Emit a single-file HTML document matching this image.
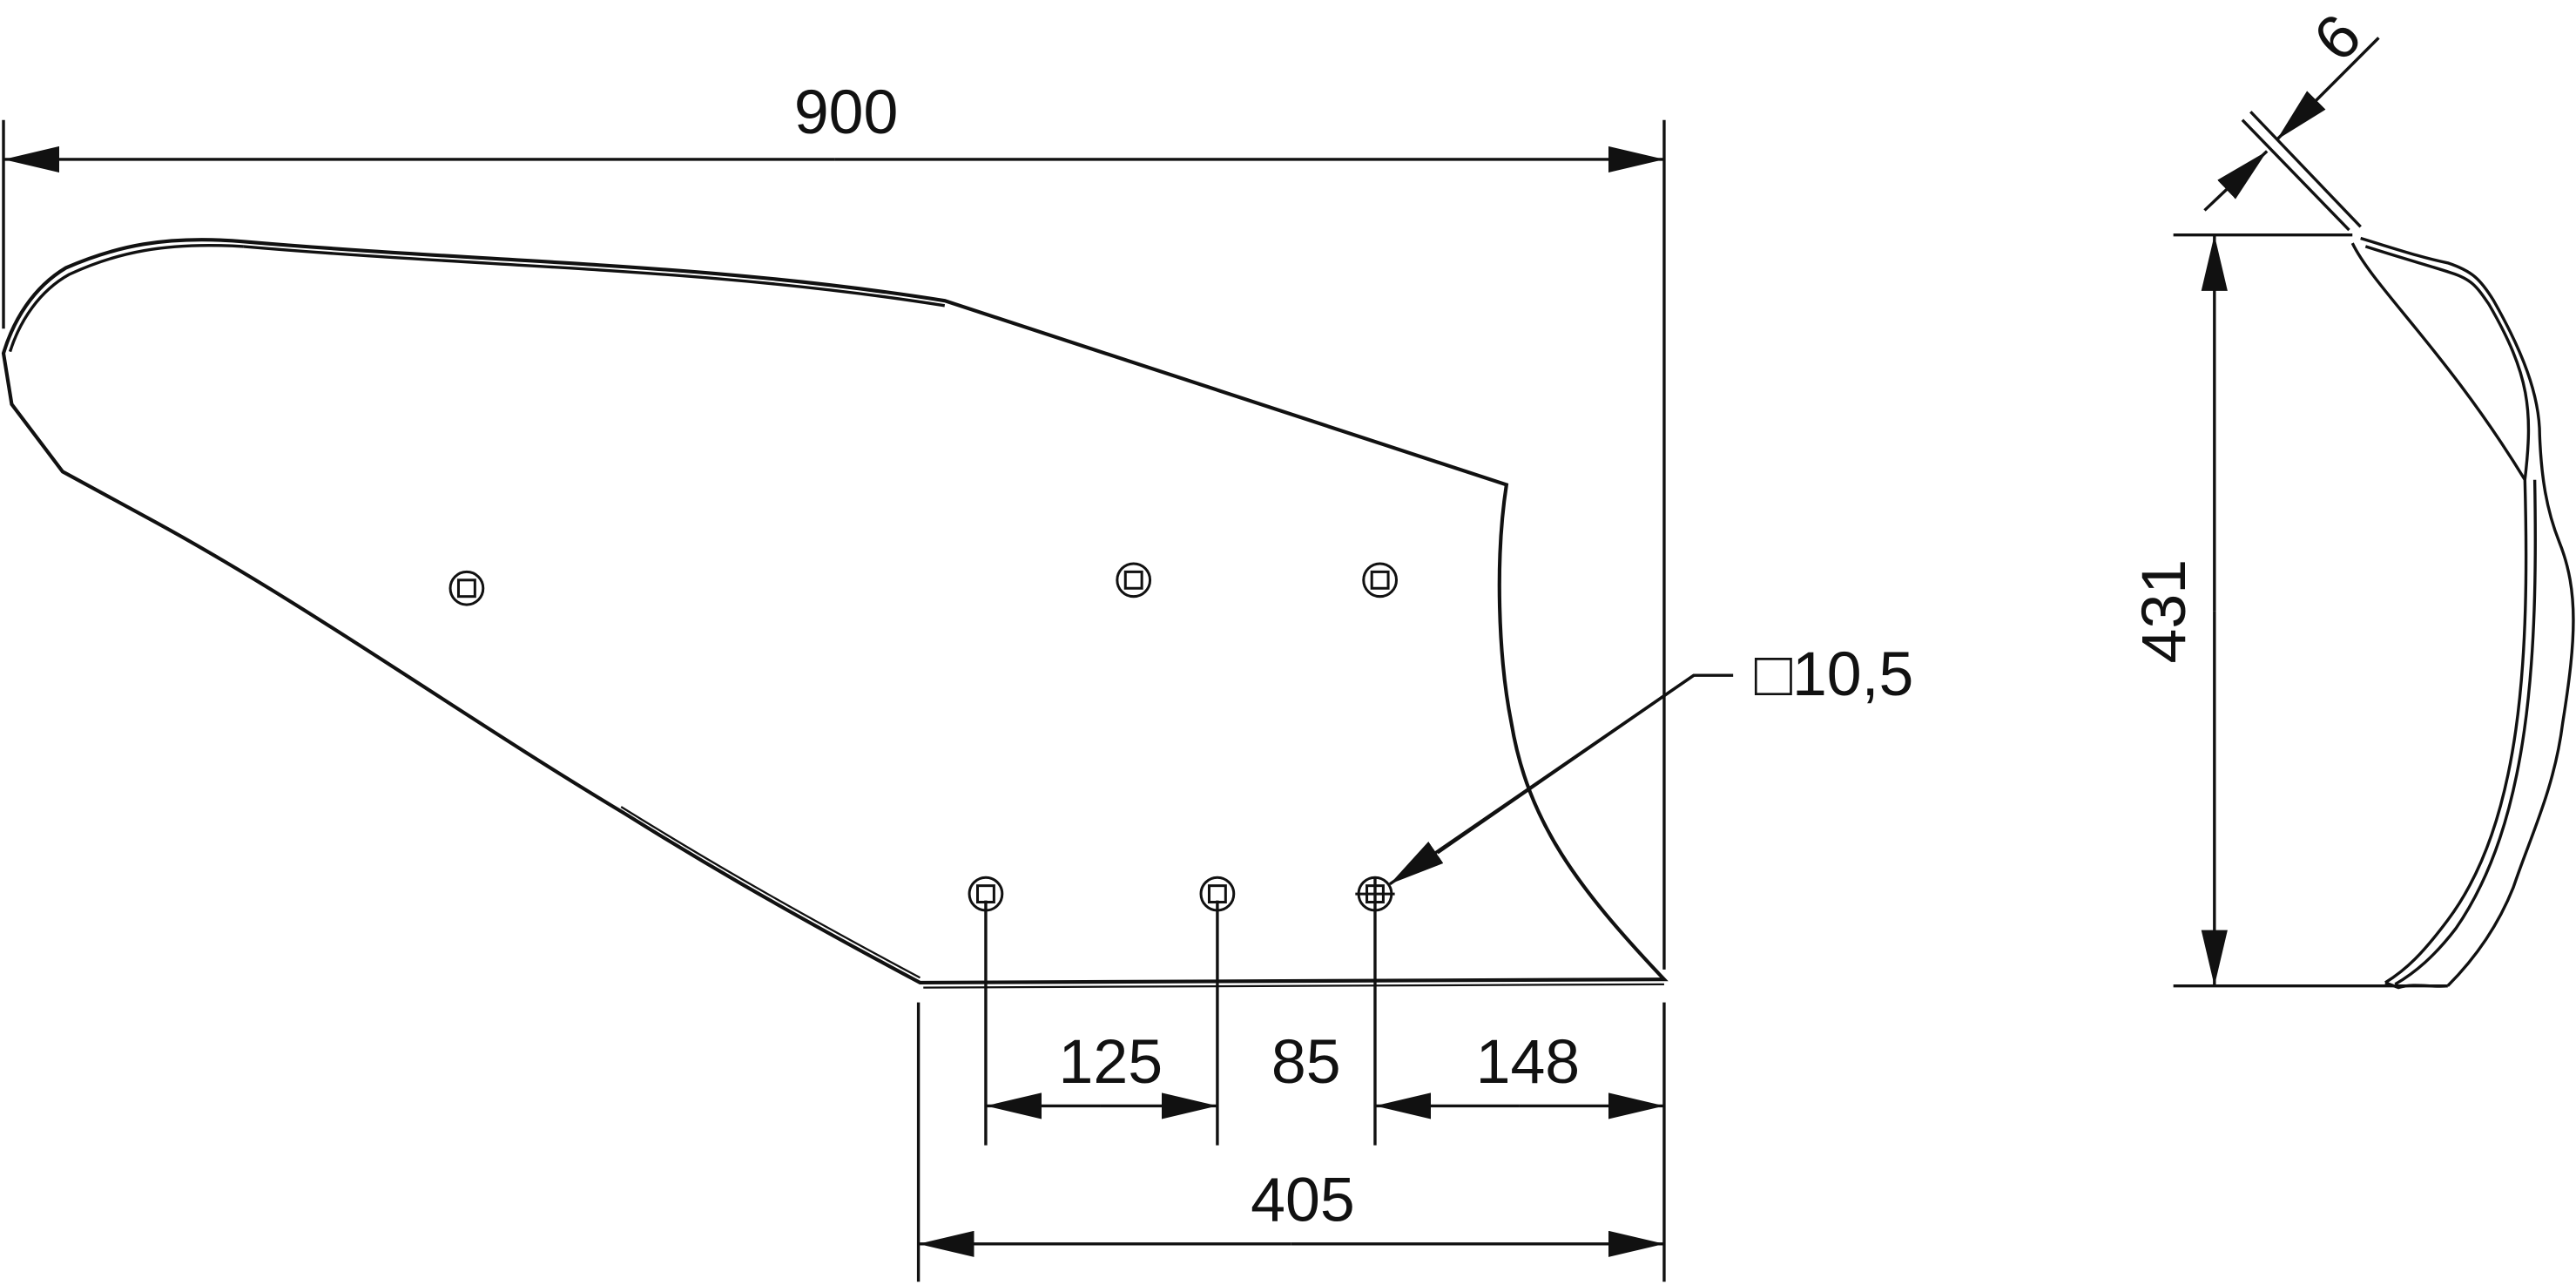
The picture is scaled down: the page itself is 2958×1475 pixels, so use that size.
<!DOCTYPE html>
<html><head><meta charset="utf-8"><style>
html,body{margin:0;padding:0;background:#fff;}
svg{display:block;}
text{font-family:"Liberation Sans",sans-serif;fill:#111;}
</style></head><body>
<svg width="2958" height="1475" viewBox="0 0 1568 782" xmlns="http://www.w3.org/2000/svg">
<defs>
<marker id="a" viewBox="0 0 34 16" refX="34" refY="8" markerWidth="34" markerHeight="16" markerUnits="userSpaceOnUse" orient="auto"><path d="M0,0 L34,8 L0,16 Z" fill="#111"/></marker>
</defs>
<g stroke="#111" stroke-width="1.8" fill="none">
<line x1="2" y1="73" x2="2" y2="200"/>
<line x1="1013" y1="73" x2="1013" y2="590"/>
<line x1="508" y1="97" x2="2" y2="97" marker-end="url(#a)"/>
<line x1="508" y1="97" x2="1013" y2="97" marker-end="url(#a)"/>
<path d="M148,147 C300,160 430,160 575,183 L917,295 C910,340 912,400 920,440 C930,500 960,540 1013,596 L560,598 C470,550 420,520 380,495 C280,435 190,370 95,318 L38,287 L7,246 L2,215 C8,195 20,175 40,163 C70,150 100,143 148,147 Z" stroke-width="2.2"/>
<path d="M148,150 C300,163 430,163 575,186" />
<path d="M6,214 C12,195 24,177 42,167 C70,154 100,147 148,150"/>
<path d="M560,595 C470,547 420,517 378,491" stroke-width="1.2"/>
<path d="M562,601 L1013,599" stroke-width="1.2"/>
<g stroke-width="1.6">
<circle cx="284" cy="358" r="10"/><rect x="279" y="353" width="10" height="10"/>
<circle cx="690" cy="353" r="10"/><rect x="685" y="348" width="10" height="10"/>
<circle cx="840" cy="353" r="10"/><rect x="835" y="348" width="10" height="10"/>
<circle cx="600" cy="544" r="10"/><rect x="595" y="539" width="10" height="10"/>
<circle cx="741" cy="544" r="10"/><rect x="736" y="539" width="10" height="10"/>
<circle cx="837" cy="544" r="10"/><rect x="832" y="539" width="10" height="10"/>
<line x1="825" y1="544" x2="849" y2="544"/>
</g>
<line x1="600" y1="548" x2="600" y2="697"/>
<line x1="741" y1="548" x2="741" y2="697"/>
<line x1="837" y1="534" x2="837" y2="697"/>
<line x1="1013" y1="610" x2="1013" y2="780"/>
<line x1="559" y1="610" x2="559" y2="780"/>
<line x1="670" y1="673" x2="600" y2="673" marker-end="url(#a)"/>
<line x1="670" y1="673" x2="741" y2="673" marker-end="url(#a)"/>
<line x1="925" y1="673" x2="837" y2="673" marker-end="url(#a)"/>
<line x1="925" y1="673" x2="1013" y2="673" marker-end="url(#a)"/>
<line x1="786" y1="757" x2="559" y2="757" marker-end="url(#a)"/>
<line x1="786" y1="757" x2="1013" y2="757" marker-end="url(#a)"/>
<polyline points="1055,411 1031,411 875,519"/>
<line x1="1031" y1="411" x2="846" y2="538" marker-end="url(#a)"/>
<line x1="1323" y1="143" x2="1432" y2="143"/>
<line x1="1323" y1="600" x2="1490" y2="600"/>
<line x1="1348" y1="372" x2="1348" y2="143" marker-end="url(#a)"/>
<line x1="1348" y1="372" x2="1348" y2="600" marker-end="url(#a)"/>
<line x1="1365" y1="73" x2="1430" y2="140"/>
<line x1="1370" y1="68" x2="1437" y2="138"/>
<line x1="1448" y1="23" x2="1386" y2="85" marker-end="url(#a)"/>
<line x1="1342" y1="128" x2="1380" y2="92" marker-end="url(#a)"/>
<path d="M1437,145 C1460,152 1475,157 1490,160 C1505,165 1510,170 1518,183 C1535,213 1546,240 1546,265 C1547,290 1550,310 1558,330 C1570,360 1568,390 1560,440 C1555,480 1540,510 1530,540 C1520,565 1505,585 1490,600"/>
<path d="M1432,148 C1445,175 1490,215 1537,292 C1540,400 1535,500 1490,560 C1475,580 1465,590 1452,598"/>
<path d="M1440,150 C1465,158 1480,162 1492,166 C1505,170 1508,175 1515,185 C1540,228 1542,250 1537,292"/>
<path d="M1543,292 C1545,400 1540,500 1495,565 C1482,582 1470,592 1458,599"/>
<path d="M1452,598 L1460,601 C1470,598 1480,601 1490,600"/>
</g>
<text x="515" y="81" font-size="38" text-anchor="middle">900</text>
<text x="676" y="659" font-size="38" text-anchor="middle">125</text>
<text x="795" y="659" font-size="38" text-anchor="middle">85</text>
<text x="930" y="659" font-size="38" text-anchor="middle">148</text>
<text x="793" y="743" font-size="38" text-anchor="middle">405</text>
<text x="1068" y="423" font-size="38">□10,5</text>
<text transform="translate(1330,372) rotate(-90)" font-size="38" text-anchor="middle">431</text>
<text transform="translate(1432,32) rotate(-45)" font-size="38" text-anchor="middle">6</text>
</svg>
</body></html>
